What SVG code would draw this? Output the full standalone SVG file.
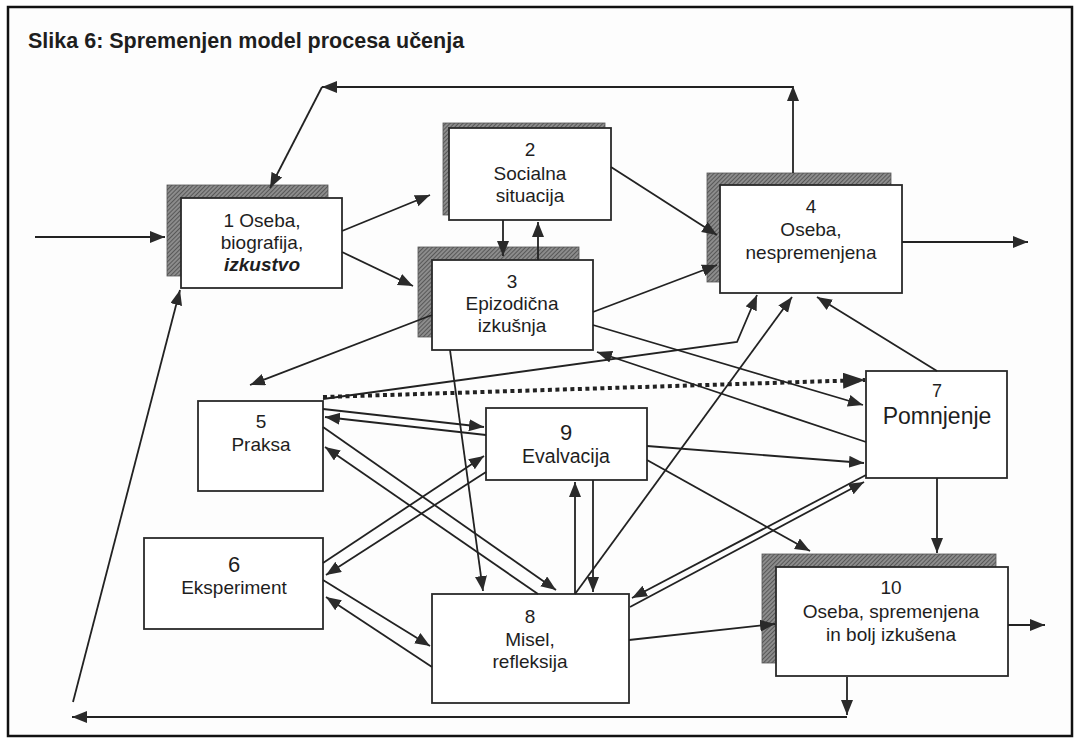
<svg xmlns="http://www.w3.org/2000/svg" width="1077" height="742" viewBox="0 0 1077 742">
<defs>
<pattern id="hatch" width="3" height="3" patternUnits="userSpaceOnUse" patternTransform="rotate(45)">
<rect width="3" height="3" fill="#8c8c8c"/>
<line x1="0" y1="0" x2="0" y2="3" stroke="#4a4a4a" stroke-width="1.6"/>
</pattern>
<marker id="arr" markerUnits="userSpaceOnUse" markerWidth="16" markerHeight="13" refX="15" refY="6" orient="auto">
<path d="M0,0 L15,6 L0,12 z" fill="#2a2a2a"/>
</marker>
<marker id="arrBig" markerUnits="userSpaceOnUse" markerWidth="24" markerHeight="18" refX="22" refY="8" orient="auto">
<path d="M0,0 L22,8 L0,16 z" fill="#2a2a2a"/>
</marker>
</defs>
<style>
.frame{fill:#fdfdfd;stroke:#111;stroke-width:2.5}
.sh{fill:url(#hatch);stroke:#555;stroke-width:0.8}
.bx{fill:#fff;stroke:#2a2a2a;stroke-width:1.8}
text{font-family:"Liberation Sans",Arial,sans-serif;fill:#1e1e1e;text-anchor:middle}
.t{font-size:19px}
.title{font-size:21.5px;font-weight:bold;text-anchor:start}
.c path{fill:none;stroke:#222;stroke-width:1.8;marker-end:url(#arr)}
.c path.dot{stroke-width:4;stroke-dasharray:4 3.5;marker-end:url(#arrBig)}
</style>
<rect class="frame" x="8" y="7" width="1064" height="729"/>
<text class="title" x="28" y="48">Slika 6: Spremenjen model procesa učenja</text>

<g id="n1">
<rect class="sh" x="167" y="185" width="161" height="91"/>
<rect class="bx" x="181" y="198" width="161" height="90"/>
<text class="t" x="262" y="227">1 Oseba,</text>
<text class="t" x="262" y="249">biografija,</text>
<text class="t" x="262" y="271" font-weight="bold" font-style="italic">izkustvo</text>
</g>
<g id="n2">
<rect class="sh" x="443" y="123" width="162" height="92"/>
<rect class="bx" x="449" y="128" width="162" height="92"/>
<text class="t" x="530" y="156">2</text>
<text class="t" x="530" y="180">Socialna</text>
<text class="t" x="530" y="202">situacija</text>
</g>
<g id="n3">
<rect class="sh" x="418" y="247" width="161" height="90"/>
<rect class="bx" x="432" y="260" width="161" height="90"/>
<text class="t" x="512" y="288">3</text>
<text class="t" x="512" y="310">Epizodična</text>
<text class="t" x="512" y="332">izkušnja</text>
</g>
<g id="n4">
<rect class="sh" x="707" y="173" width="184" height="109"/>
<rect class="bx" x="720" y="185" width="182" height="108"/>
<text class="t" x="811" y="213">4</text>
<text class="t" x="811" y="236">Oseba,</text>
<text class="t" x="811" y="259">nespremenjena</text>
</g>
<g id="n5">
<rect class="bx" x="198" y="401" width="125" height="90"/>
<text class="t" x="261" y="428">5</text>
<text class="t" x="261" y="451">Praksa</text>
</g>
<g id="n6">
<rect class="bx" x="144" y="538" width="179" height="91"/>
<text x="234" y="572" font-size="22">6</text>
<text class="t" x="234" y="594">Eksperiment</text>
</g>
<g id="n7">
<rect class="bx" x="866" y="371" width="141" height="107"/>
<text x="937" y="397" font-size="18">7</text>
<text x="937" y="424" font-size="23">Pomnjenje</text>
</g>
<g id="n8">
<rect class="bx" x="432" y="594" width="197" height="109"/>
<text class="t" x="530" y="623">8</text>
<text class="t" x="530" y="646">Misel,</text>
<text class="t" x="530" y="668">refleksija</text>
</g>
<g id="n9">
<rect class="bx" x="486" y="408" width="161" height="72"/>
<text x="566" y="440" font-size="22">9</text>
<text x="566" y="463" font-size="19.5">Evalvacija</text>
</g>
<g id="n10">
<rect class="sh" x="762" y="554" width="234" height="109"/>
<rect class="bx" x="776" y="567" width="232" height="109"/>
<text class="t" x="891" y="594">10</text>
<text class="t" x="891" y="618">Oseba, spremenjena</text>
<text class="t" x="891" y="641">in bolj izkušena</text>
</g>

<g class="c" id="connectors">
<path d="M35,237 L165,237"/>
<path d="M342,231 L430,195"/>
<path d="M342,252 L413,286"/>
<path d="M793,173 L793,86"/>
<path d="M793,87 L322,87"/>
<path d="M322,87 L270,188"/>
<path d="M611,167 L717,235"/>
<path d="M503,220 L503,256"/>
<path d="M538,260 L538,222"/>
<path d="M593,312 L717,265"/>
<path d="M432,315 L250,385"/>
<path d="M593,325 L863,405"/>
<path d="M866,442 L597,352"/>
<path class="dot" d="M323,397 L865,380"/>
<path d="M323,399 L737,342 L757,295"/>
<path d="M575,594 L792,297"/>
<path d="M937,371 L817,297"/>
<path d="M902,242 L1028,242"/>
<path d="M323,409 L484,427"/>
<path d="M486,435 L325,417"/>
<path d="M323,427 L556,590"/>
<path d="M538,594 L325,447"/>
<path d="M323,563 L484,456"/>
<path d="M486,472 L326,575"/>
<path d="M323,580 L430,646"/>
<path d="M432,667 L326,597"/>
<path d="M450,350 L483,591"/>
<path d="M575,594 L575,482"/>
<path d="M593,480 L593,592"/>
<path d="M647,446 L864,463"/>
<path d="M647,460 L810,551"/>
<path d="M866,475 L632,598"/>
<path d="M630,607 L864,482"/>
<path d="M937,478 L937,553"/>
<path d="M629,640 L775,624"/>
<path d="M1008,625 L1045,625"/>
<path d="M847,677 L847,715"/>
<path d="M847,717 L72,717"/>
<path d="M73,702 L180,290"/>
</g>
</svg>
